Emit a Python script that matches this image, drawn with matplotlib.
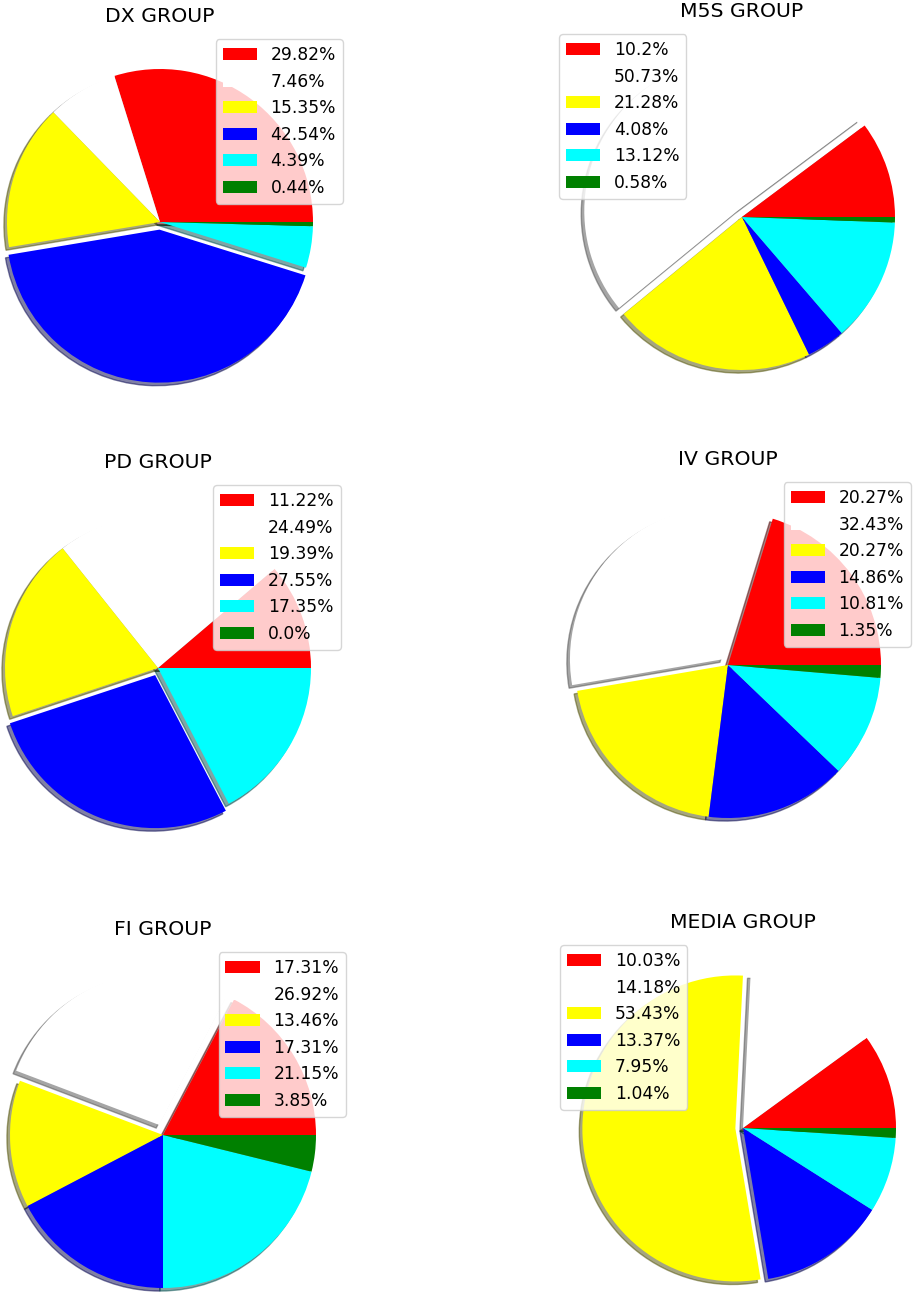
import matplotlib
matplotlib.use("Agg")
import matplotlib.pyplot as plt

groups = ["DX GROUP", "M5S GROUP", "PD GROUP", "IV GROUP", "FI GROUP", "MEDIA GROUP"]
dx_values = [29.82, 7.46, 15.35, 42.54, 4.39, 0.44]
m5s_values = [10.2, 50.73, 21.28, 4.08, 13.12, 0.58]
pd_values = [11.22, 24.49, 19.39, 27.55, 17.35, 0.0]
iv_values = [20.27, 32.43, 20.27, 14.86, 10.81, 1.35]
fi_values = [17.31, 26.92, 13.46, 17.31, 21.15, 3.85]
media_values = [10.03, 14.18, 53.43, 13.37, 7.95, 1.04]
all_values = [dx_values, m5s_values, pd_values, iv_values, fi_values, media_values]

slice_colors = ["red", "white", "yellow", "blue", "cyan", "green"]

# layout (pixel centres of each pie, legend location, explode amount)
W, H = 914, 1294
R = 153
centres = [(160, 222), (742, 217), (158, 668), (728, 665), (163, 1135), (743, 1128)]
legend_locs = ["upper right", "upper left", "upper right", "upper right", "upper right", "upper left"]
explode_amt = [0.05, 0.05, 0.05, 0.05, 0.07, 0.05]
shadow_off = -0.02 * 72 / 100

fig = plt.figure(figsize=(W / 100, H / 100), dpi=100)

for name, vals, (cx, cy), loc, ex in zip(groups, all_values, centres, legend_locs, explode_amt):
    half = 1.25 * R
    ax = fig.add_axes([(cx - half) / W, (H - cy - half) / H, 2 * half / W, 2 * half / H])
    imax = vals.index(max(vals))
    explode = [ex if i == imax else 0 for i in range(len(vals))]
    wedges, _ = ax.pie(vals, colors=slice_colors, explode=explode, startangle=0,
                       shadow={"ox": shadow_off, "oy": shadow_off})
    ax.set_title(name, fontsize=14.7)
    ax.legend(wedges, [f"{v}%" for v in vals], loc=loc, fontsize=12.3)

fig.savefig("out.png", dpi=100)
